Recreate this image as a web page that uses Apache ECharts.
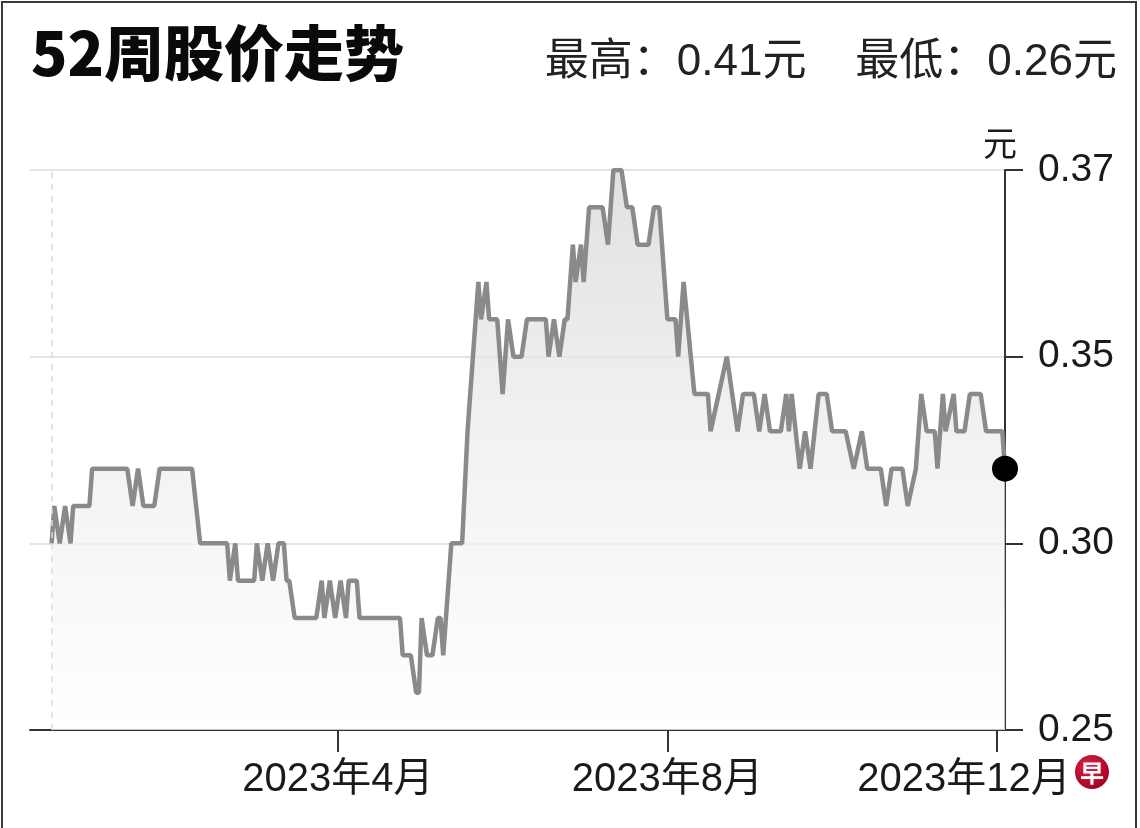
<!DOCTYPE html>
<html>
<head>
<meta charset="utf-8">
<script src="https://cdn.jsdelivr.net/npm/echarts@6/dist/echarts.min.js"></script>
<style>
html, body { margin: 0; padding: 0; background: #fff; }
#chart { width: 1140px; height: 828px; }
</style>
</head>
<body>
<div id="chart"></div>
<script>
// days counted from the first trading day shown
const startDate = [2022, 12, 16];
const dayIndex = [
  0, 1, 3, 5, 7, 8, 14, 15, 28, 30, 32, 34, 38, 40, 52, 55,
  65, 66, 68, 69, 75, 76, 78, 80, 82, 84, 86, 87, 88, 90,
  98, 100, 101, 103, 105, 107, 109, 110, 113, 114,
  129, 130, 133, 135, 136, 137, 139, 141, 143, 144, 145, 148,
  152, 154, 156, 158, 159, 161, 162, 165, 167, 169, 171, 174, 176,
  183, 184, 186, 188, 190, 191, 193, 194, 196, 197, 199,
  204, 206, 208, 211, 213, 215, 217, 221, 223, 225,
  228, 231, 232, 234, 238, 243, 244, 247, 250, 252, 254, 256,
  260, 262, 264, 266, 270, 272, 273, 274, 277, 279, 281, 284, 287, 289,
  294, 297, 300, 302, 307, 309, 311, 315, 317, 320,
  322, 324, 327, 328, 330, 331, 334, 335, 338, 340, 344, 346, 352, 353
];
const prices = [
  0.30, 0.31, 0.30, 0.31, 0.30, 0.31, 0.31, 0.32, 0.32, 0.31, 0.32, 0.31, 0.31, 0.32, 0.32, 0.30,
  0.30, 0.29, 0.30, 0.29, 0.29, 0.30, 0.29, 0.30, 0.29, 0.30, 0.30, 0.29, 0.29, 0.28,
  0.28, 0.29, 0.28, 0.29, 0.28, 0.29, 0.28, 0.29, 0.29, 0.28,
  0.28, 0.27, 0.27, 0.26, 0.26, 0.28, 0.27, 0.27, 0.28, 0.28, 0.27, 0.30,
  0.30, 0.33, 0.35, 0.37, 0.36, 0.37, 0.36, 0.36, 0.34, 0.36, 0.35, 0.35, 0.36,
  0.36, 0.35, 0.36, 0.35, 0.36, 0.36, 0.38, 0.37, 0.38, 0.37, 0.39,
  0.39, 0.38, 0.40, 0.40, 0.39, 0.39, 0.38, 0.38, 0.39, 0.39,
  0.36, 0.36, 0.35, 0.37, 0.34, 0.34, 0.33, 0.34, 0.35, 0.34, 0.33, 0.34,
  0.34, 0.33, 0.34, 0.33, 0.33, 0.34, 0.33, 0.34, 0.32, 0.33, 0.32, 0.34, 0.34, 0.33,
  0.33, 0.32, 0.33, 0.32, 0.32, 0.31, 0.32, 0.32, 0.31, 0.32,
  0.34, 0.33, 0.33, 0.32, 0.34, 0.33, 0.34, 0.33, 0.33, 0.34, 0.34, 0.33, 0.33, 0.32
];
const yTickLabels = ['0.25', '0.30', '0.35', '0.37'];
const xTickDates = [[2023, 4, 1], [2023, 8, 1], [2023, 12, 1]];
const xTickLabels = ['2023年4月', '2023年8月', '2023年12月'];
const yearHigh = 0.41;
const yearLow = 0.26;

const DAY = 86400000;
const t0 = Date.UTC(startDate[0], startDate[1] - 1, startDate[2]);
const xTicks = xTickDates.map(a => Math.round((Date.UTC(a[0], a[1] - 1, a[2]) - t0) / DAY));
const seriesData = dayIndex.map((d, i) => [d, prices[i]]);
const lastPoint = seriesData[seriesData.length - 1];

const latin = '"Liberation Sans", Arial, "Noto Sans CJK SC", sans-serif';

const chart = echarts.init(document.getElementById('chart'));
chart.setOption({
  animation: false,
  backgroundColor: '#fff',
  title: [
    {
      text: '52周股价走势',
      left: 26, top: 18,
      textStyle: { fontSize: 60, fontWeight: 900, color: '#0a0a0a', fontFamily: '"Noto Sans CJK SC", sans-serif' }
    },
    {
      text: '最高：' + yearHigh.toFixed(2) + '元    最低：' + yearLow.toFixed(2) + '元',
      right: 18, top: 36,
      textStyle: { fontSize: 44, fontWeight: 'normal', color: '#222', fontFamily: latin }
    }
  ],
  grid: { left: 30, right: 135, top: 170, bottom: 98 },
  xAxis: {
    type: 'value',
    min: dayIndex[0] - 8,
    max: dayIndex[dayIndex.length - 1],
    axisLine: { show: true, onZero: false, lineStyle: { color: '#333', width: 2 } },
    axisTick: { show: true, customValues: xTicks, length: 22, lineStyle: { color: '#333', width: 2 } },
    axisLabel: {
      show: true,
      customValues: xTicks,
      margin: 30,
      fontSize: 40,
      color: '#1a1a1a',
      fontFamily: latin,
      showMinLabel: true,
      showMaxLabel: true,
      hideOverlap: false,
      formatter: function (v) {
        const i = xTicks.indexOf(Math.round(v));
        if (i < 0) return '';
        return i === xTicks.length - 1 ? '{last|' + xTickLabels[i] + '}' : xTickLabels[i];
      },
      rich: {
        last: { fontSize: 40, color: '#1a1a1a', fontFamily: latin, padding: [0, 66, 0, 0] }
      }
    },
    splitLine: { show: false }
  },
  yAxis: {
    type: 'value',
    position: 'right',
    min: 0.25, max: 0.40, interval: 0.05,
    name: '元',
    nameLocation: 'end',
    nameGap: 10,
    nameTextStyle: { fontSize: 34, color: '#1a1a1a', align: 'center', verticalAlign: 'bottom', padding: [0, 10, 0, 0], fontFamily: '"Noto Sans CJK SC", sans-serif' },
    axisLine: { show: true, onZero: false, lineStyle: { color: '#333', width: 2 } },
    axisTick: { show: true, inside: false, length: 18, lineStyle: { color: '#333', width: 2 } },
    axisLabel: {
      margin: 33,
      fontSize: 39,
      color: '#1a1a1a',
      fontFamily: latin,
      formatter: v => yTickLabels[Math.round((v - 0.25) / 0.05)] || ''
    },
    splitLine: { show: true, lineStyle: { color: '#e4e4e4', width: 2 } }
  },
  series: [
    {
      type: 'line',
      data: seriesData,
      showSymbol: false,
      lineStyle: { color: '#8a8a8a', width: 4.5 },
      areaStyle: {
        origin: 'start',
        color: new echarts.graphic.LinearGradient(0, 0, 0, 1, [
          { offset: 0, color: '#d4d4d7' },
          { offset: 0.5, color: '#ededee' },
          { offset: 1, color: '#ffffff' }
        ])
      },
      markLine: {
        silent: true,
        symbol: 'none',
        label: { show: false },
        lineStyle: { color: '#dcdcdc', type: [6, 6], width: 1.5 },
        data: [{ xAxis: dayIndex[0] }]
      },
      z: 3
    },
    {
      type: 'scatter',
      data: [lastPoint],
      symbol: 'circle',
      symbolSize: 26,
      itemStyle: { color: '#000', opacity: 1 },
      z: 5
    }
  ],
  graphic: [
    {
      type: 'rect',
      shape: { x: 2, y: 2, width: 1134, height: 840 },
      style: { fill: 'none', stroke: '#3a3a3a', lineWidth: 2 },
      silent: true
    },
    {
      type: 'group',
      left: 1075, top: 755,
      children: [
        {
          type: 'circle',
          shape: { cx: 17, cy: 17, r: 17 },
          style: {
            fill: new echarts.graphic.RadialGradient(0.4, 0.35, 0.7, [
              { offset: 0, color: '#e0224a' },
              { offset: 1, color: '#a0001f' }
            ])
          }
        },
        {
          type: 'text',
          x: 17, y: 18,
          style: { text: '早', fill: '#fff', fontSize: 24, fontWeight: 'bold', align: 'center', verticalAlign: 'middle', fontFamily: '"Noto Sans CJK SC", sans-serif' }
        }
      ]
    }
  ]
});
</script>
</body>
</html>
